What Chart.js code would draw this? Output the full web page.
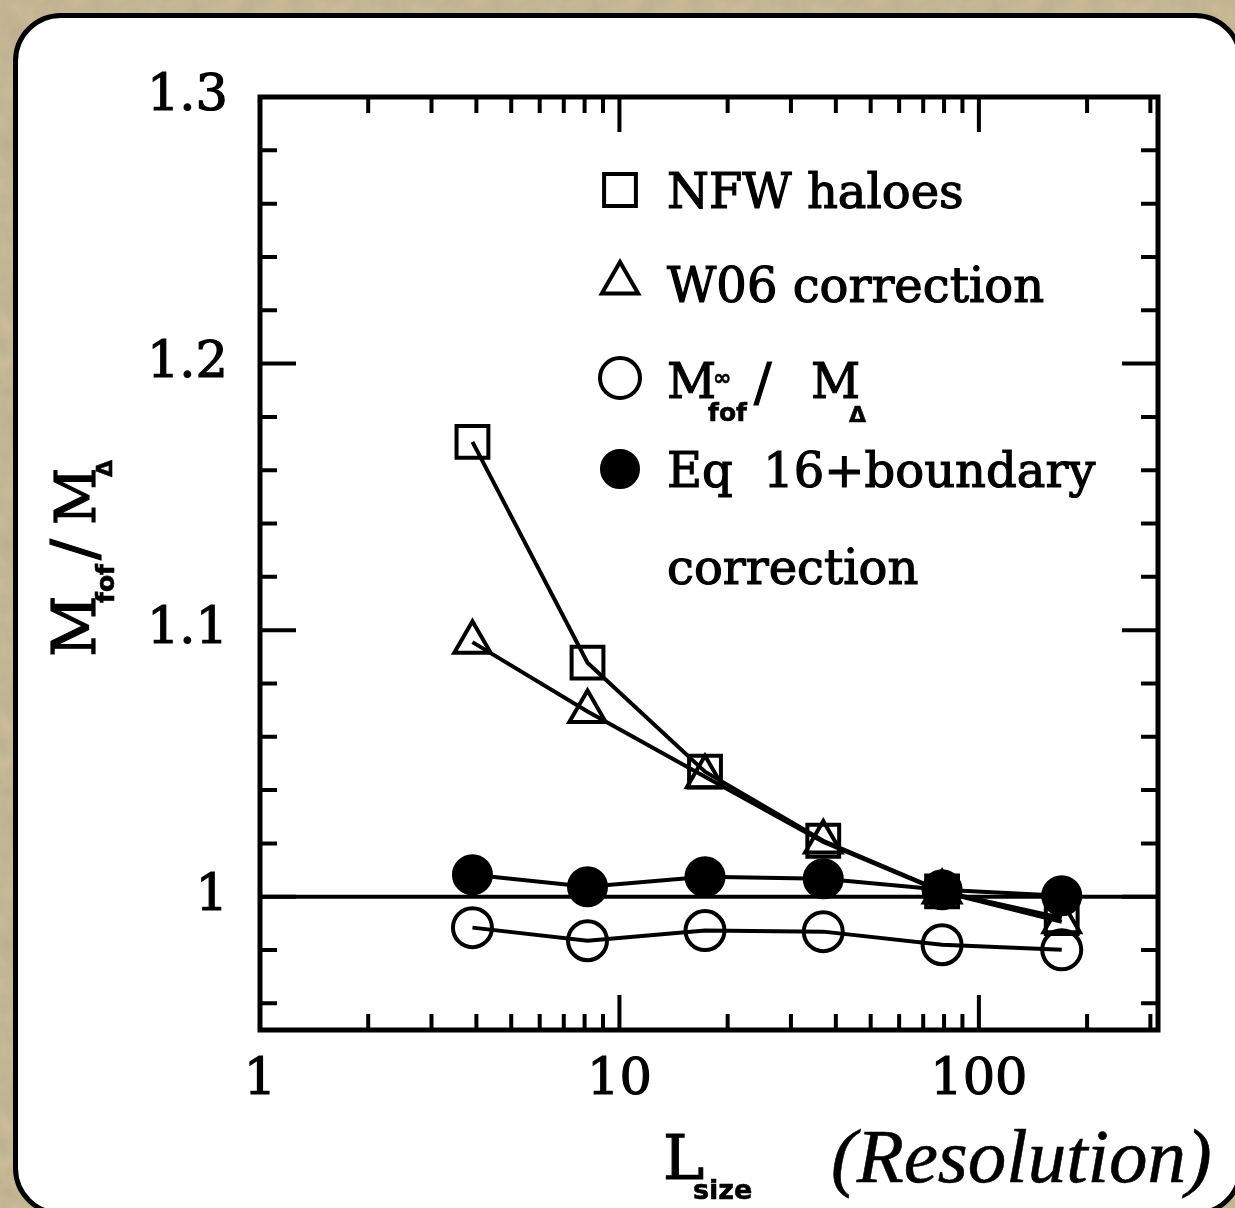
<!DOCTYPE html>
<html>
<head>
<meta charset="utf-8">
<title>Mfof / MΔ vs Lsize</title>
<script src="https://cdn.jsdelivr.net/npm/chart.js"></script>
<style>
  html, body { margin: 0; padding: 0; }
  body {
    width: 1235px; height: 1208px; overflow: hidden; position: relative;
    background-color: #cabb96;
    background-image: url("data:image/svg+xml;utf8,<svg xmlns='http://www.w3.org/2000/svg' width='400' height='400'><filter id='n'><feTurbulence type='fractalNoise' baseFrequency='0.045' numOctaves='4' seed='3'/><feColorMatrix values='0 0 0 0 0.42  0 0 0 0 0.36  0 0 0 0 0.24  0.7 0 0 0 -0.15'/></filter><rect width='100%' height='100%' filter='url(%23n)'/></svg>");
  }
  #panel {
    position: absolute; left: 13px; top: 13px;
    width: 1220px; height: 1193px;
    background: #fff; border: 5px solid #000; border-radius: 48px;
  }
  #chart { position: absolute; left: 0; top: 0; }
</style>
</head>
<body>
<div id="panel"></div>
<canvas id="chart" width="1235" height="1208"></canvas>
<script>
// Lsize (resolution) for each run
const sizes = [3.9, 8.15, 17.3, 36.9, 79, 170];

// Mfof / MDelta for each series
const nfwHaloes     = [1.1706, 1.0878, 1.0469, 1.0210, 1.0020, 0.9920];
const w06Correction = [1.0955, 1.0695, 1.0450, 1.0205, 1.0018, 0.9906];
const fofInfRatio   = [0.9884, 0.9835, 0.9873, 0.9869, 0.9820, 0.9801];
const eq16Boundary  = [1.0082, 1.0037, 1.0075, 1.0067, 1.0026, 1.0004];

// axis labels
const xTickLabels = [1, 10, 100];
const yTickLabels = [1, 1.1, 1.2, 1.3];
const X_MIN = 1, X_MAX = 315;
const Y_MIN = 0.95, Y_MAX = 1.3;

// tick positions (1..9, 10..90, 100..300) and every 0.02 on y
const xTickValues = [];
[1, 10, 100].forEach(d => {
  for (let k = 1; k <= 9; k++) if (k * d <= X_MAX) xTickValues.push(k * d);
});
const yTickValues = [];
for (let i = 0; i <= 17; i++) yTickValues.push(Math.round((0.96 + 0.02 * i) * 100) / 100);

const points = arr => arr.map((v, i) => ({ x: sizes[i], y: v }));

const SERIF = '"DejaVu Serif", serif';
const SANS = '"DejaVu Sans", sans-serif';

function isMajorX(v) { return xTickLabels.includes(v); }
function isMajorY(v) { return Math.abs(v * 10 - Math.round(v * 10)) < 1e-6; }

// frame + inward ticks on all four sides
const frameTicks = {
  id: 'frameTicks',
  afterDraw(chart) {
    const { ctx, chartArea: a, scales: { x, y } } = chart;
    ctx.save();
    ctx.strokeStyle = '#000';
    ctx.lineWidth = 4;
    ctx.beginPath();
    x.ticks.forEach(t => {
      const px = x.getPixelForValue(t.value);
      const len = isMajorX(t.value) ? 35 : 16;
      ctx.moveTo(px, a.bottom); ctx.lineTo(px, a.bottom - len);
      ctx.moveTo(px, a.top); ctx.lineTo(px, a.top + len);
    });
    y.ticks.forEach(t => {
      const py = y.getPixelForValue(t.value);
      const len = isMajorY(t.value) ? 36 : 17;
      ctx.moveTo(a.left, py); ctx.lineTo(a.left + len, py);
      ctx.moveTo(a.right, py); ctx.lineTo(a.right - len, py);
    });
    ctx.stroke();
    ctx.lineWidth = 5;
    ctx.strokeRect(a.left, a.top, a.right - a.left, a.bottom - a.top);
    ctx.restore();
  }
};

// filled text with a thin outline so it reads as heavy as the original
function text(ctx, s, font, x, y, w) {
  ctx.font = font;
  ctx.fillText(s, x, y);
  ctx.lineWidth = w === undefined ? 1.2 : w;
  if (ctx.lineWidth > 0) ctx.strokeText(s, x, y);
  return x + ctx.measureText(s).width;
}

// axis titles with sub/superscripts
const axisTitles = {
  id: 'axisTitles',
  afterDraw(chart) {
    const ctx = chart.ctx;
    ctx.save();
    ctx.fillStyle = '#000';
    ctx.strokeStyle = '#000';
    ctx.textBaseline = 'alphabetic';
    ctx.textAlign = 'left';

    // y title, rotated
    ctx.save();
    ctx.translate(95, 657);
    ctx.rotate(-Math.PI / 2);
    text(ctx, 'M', '60px ' + SERIF, 0, 0);
    text(ctx, 'fof', 'bold 25px ' + SANS, 54, 19, 0.6);
    text(ctx, '/', '62px ' + SERIF, 97, 0);
    text(ctx, 'M', '56px ' + SERIF, 132, 0);
    text(ctx, 'Δ', 'bold 22px ' + SANS, 180, 17, 0.6);
    ctx.restore();

    // x title
    text(ctx, 'L', '62px ' + SERIF, 663, 1179);
    text(ctx, 'size', 'bold 27px ' + SANS, 693, 1199, 0.6);
    text(ctx, '(Resolution)', 'italic 77px "Liberation Serif", serif', 831, 1182, 0);
    ctx.restore();
  }
};

// legend inside the plot, upper right
const legendRows = [
  { ds: 3, sy: 190 },
  { ds: 2, sy: 283 },
  { ds: 1, sy: 378 },
  { ds: 0, sy: 469 }
];
const sideLegend = {
  id: 'sideLegend',
  afterDraw(chart) {
    const ctx = chart.ctx;
    const LX = 620, TX = 667;
    const font = '48px ' + SERIF;
    ctx.save();
    legendRows.forEach(r => {
      const d = chart.data.datasets[r.ds];
      ctx.save();
      ctx.lineWidth = d.pointBorderWidth;
      ctx.fillStyle = d.pointBackgroundColor;
      ctx.strokeStyle = '#000';
      Chart.helpers.drawPoint(ctx, {
        pointStyle: d.pointStyle, rotation: 0,
        radius: d.legendRadius, borderWidth: d.pointBorderWidth
      }, LX, r.sy);
      ctx.restore();
    });
    ctx.fillStyle = '#000';
    ctx.strokeStyle = '#000';
    ctx.textBaseline = 'alphabetic';
    text(ctx, 'NFW haloes', font, TX, 208);
    text(ctx, 'W06 correction', font, TX, 302);
    // M^inf_fof / M_Delta
    text(ctx, 'M', font, TX, 398);
    text(ctx, '∞', 'bold 22px ' + SANS, 713, 385, 0.5);
    text(ctx, 'fof', 'bold 25px ' + SANS, 708, 421, 0.6);
    text(ctx, '/', '52px ' + SERIF, 754, 400);
    text(ctx, 'M', font, 811, 398);
    text(ctx, 'Δ', 'bold 22px ' + SANS, 849, 422, 0.6);
    text(ctx, 'Eq  16+boundary', font, TX, 487);
    text(ctx, 'correction', font, TX, 584);
    ctx.restore();
  }
};

new Chart(document.getElementById('chart'), {
  type: 'line',
  data: {
    datasets: [
      {
        label: 'Eq 16+boundary correction',
        data: points(eq16Boundary),
        borderColor: '#000', borderWidth: 4,
        pointStyle: 'circle', pointRadius: 19.5, legendRadius: 19,
        pointBackgroundColor: '#000', pointBorderColor: '#000', pointBorderWidth: 2
      },
      {
        label: 'Mfof∞ / MΔ',
        data: points(fofInfRatio),
        borderColor: '#000', borderWidth: 4,
        pointStyle: 'circle', pointRadius: 19.5, legendRadius: 20,
        pointBackgroundColor: 'rgba(0,0,0,0)', pointBorderColor: '#000', pointBorderWidth: 4
      },
      {
        label: 'W06 correction',
        data: points(w06Correction),
        borderColor: '#000', borderWidth: 4,
        pointStyle: 'triangle', pointRadius: 21, legendRadius: 21,
        pointBackgroundColor: 'rgba(0,0,0,0)', pointBorderColor: '#000', pointBorderWidth: 4
      },
      {
        label: 'NFW haloes',
        data: points(nfwHaloes),
        borderColor: '#000', borderWidth: 4,
        pointStyle: 'rect', pointRadius: 22.5, legendRadius: 22.5,
        pointBackgroundColor: 'rgba(0,0,0,0)', pointBorderColor: '#000', pointBorderWidth: 4
      },
      {
        label: 'unity',
        data: [{ x: X_MIN, y: 1 }, { x: X_MAX, y: 1 }],
        borderColor: '#000', borderWidth: 4, pointRadius: 0
      }
    ]
  },
  options: {
    responsive: false,
    animation: false,
    devicePixelRatio: 1,
    layout: { padding: { top: 97, right: 77, left: 0, bottom: 0 } },
    plugins: { legend: { display: false }, tooltip: { enabled: false } },
    scales: {
      x: {
        type: 'logarithmic', min: X_MIN, max: X_MAX,
        grid: { display: false, drawTicks: false },
        border: { display: false },
        afterBuildTicks: s => { s.ticks = xTickValues.map(v => ({ value: v })); },
        afterFit: s => { s.height = 178; },
        ticks: {
          autoSkip: false, maxRotation: 0, padding: 20, color: '#000',
          textStrokeColor: '#000', textStrokeWidth: 1.2,
          font: { family: 'DejaVu Serif', size: 51 },
          callback: v => xTickLabels.includes(v) ? String(v) : ''
        }
      },
      y: {
        type: 'linear', min: Y_MIN, max: Y_MAX,
        grid: { display: false, drawTicks: false },
        border: { display: false },
        afterBuildTicks: s => { s.ticks = yTickValues.map(v => ({ value: v })); },
        afterFit: s => { s.width = 260; },
        ticks: {
          autoSkip: false, padding: 32, color: '#000',
          textStrokeColor: '#000', textStrokeWidth: 1.2,
          font: { family: 'DejaVu Serif', size: 51 },
          callback: v => {
            const lab = yTickLabels.find(l => Math.abs(l - v) < 1e-6);
            return lab === undefined ? '' : String(lab);
          }
        }
      }
    }
  },
  plugins: [frameTicks, axisTitles, sideLegend]
});
</script>
</body>
</html>
